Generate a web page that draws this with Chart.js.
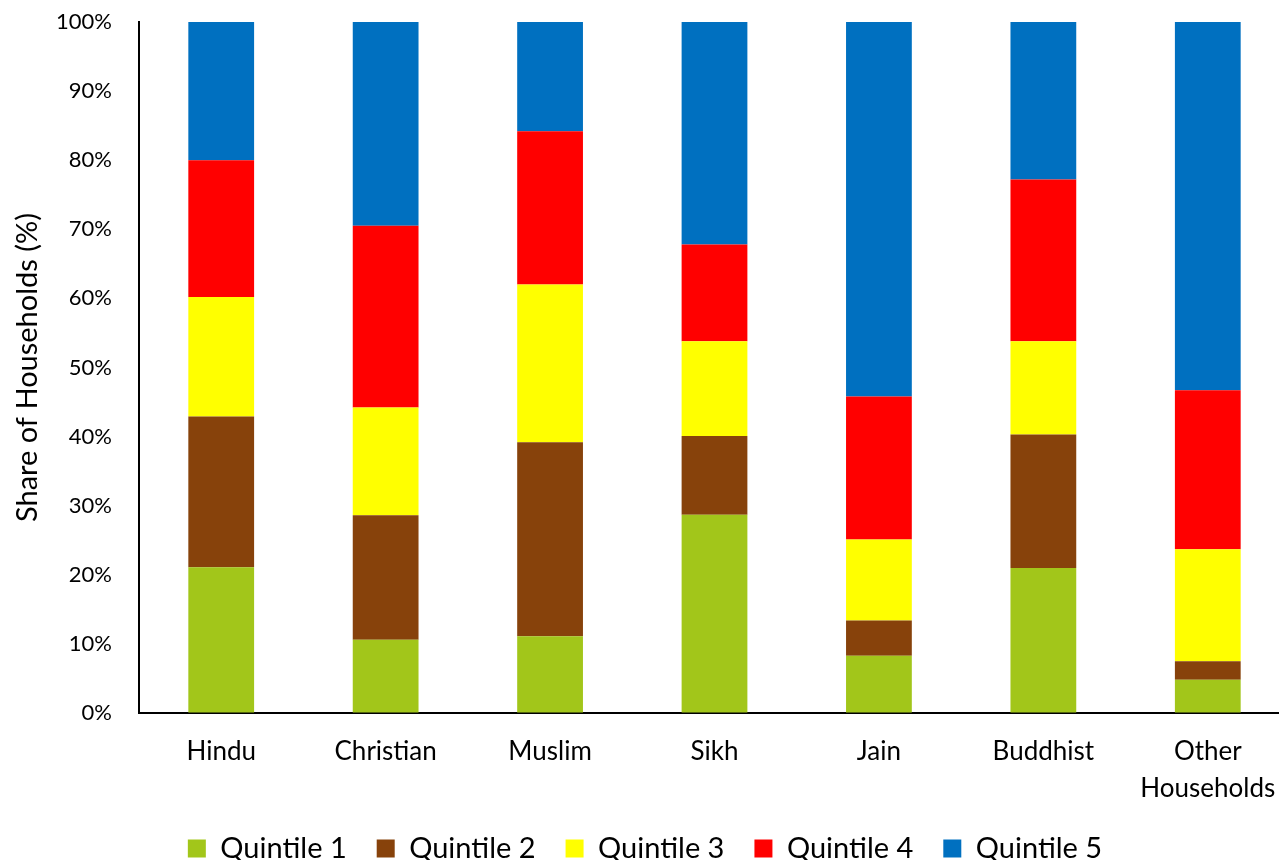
<!DOCTYPE html>
<html>
<head>
<meta charset="utf-8">
<title>Share of Households by Wealth Quintile</title>
<script src="https://cdn.jsdelivr.net/npm/chart.js@4.4.1/dist/chart.umd.min.js"></script>
<style>
  html, body { margin: 0; padding: 0; background: #fff; overflow: hidden; }
  #wrap { width: 1290px; height: 860px; position: relative; }
</style>
</head>
<body>
<div id="wrap"><canvas id="chart"></canvas></div>
<script>
// Religion groups on the x axis
const categories = ['Hindu', 'Christian', 'Muslim', 'Sikh', 'Jain', 'Buddhist', ['Other', 'Households']];

// Share of households (%) in each wealth quintile
const quintile1 = [21.1, 10.6, 11.1, 28.7, 8.3, 21.0, 4.8];
const quintile2 = [21.8, 18.0, 28.1, 11.4, 5.1, 19.3, 2.7];
const quintile3 = [17.3, 15.6, 22.8, 13.7, 11.7, 13.5, 16.2];
const quintile4 = [19.8, 26.3, 22.2, 14.0, 20.7, 23.4, 23.0];
const quintile5 = [20.0, 29.5, 15.8, 32.2, 54.2, 22.8, 53.3];

const seriesNames = ['Quintile 1', 'Quintile 2', 'Quintile 3', 'Quintile 4', 'Quintile 5'];
const seriesColors = ['#A2C61A', '#87420B', '#FFFF00', '#FF0000', '#0070C0'];

// y-axis ticks
const yTicks = [0, 10, 20, 30, 40, 50, 60, 70, 80, 90, 100];

const FONT = 'Lato, "Open Sans", sans-serif';

const seriesValues = [quintile1, quintile2, quintile3, quintile4, quintile5];
const datasets = seriesNames.map((name, i) => ({
  label: name,
  data: seriesValues[i],
  backgroundColor: seriesColors[i],
  borderWidth: 0,
  categoryPercentage: 1.0,
  barPercentage: 0.4
}));

// Keep the legend strip compact even with wide spacing between its items
const compactLegend = {
  id: 'compactLegend',
  afterInit(chart) {
    const lg = chart.legend;
    if (!lg) return;
    const fit = lg.fit.bind(lg);
    lg.fit = function () {
      fit();
      this.height = 56;
    };
  }
};

// invisible tick marks: they only reserve room between the axis line and its labels
const hiddenTicks = (len) => ({
  display: true,
  drawOnChartArea: false,
  drawTicks: true,
  tickLength: len,
  tickColor: 'rgba(0,0,0,0)',
  color: 'rgba(0,0,0,0)'
});

new Chart(document.getElementById('chart'), {
  type: 'bar',
  data: { labels: categories, datasets },
  plugins: [compactLegend],
  options: {
    responsive: true,
    maintainAspectRatio: false,
    animation: false,
    layout: { padding: { top: 22, right: 0, bottom: 0, left: 0 } },
    plugins: {
      tooltip: { enabled: false },
      legend: {
        position: 'bottom',
        labels: {
          boxWidth: 18,
          boxHeight: 18,
          padding: 30,
          color: '#000',
          font: { family: FONT, size: 29 }
        }
      }
    },
    scales: {
      x: {
        stacked: true,
        grid: hiddenTicks(17),
        border: { display: true, color: '#000', width: 2 },
        ticks: {
          color: '#000',
          padding: 3,
          maxRotation: 0,
          autoSkip: false,
          font: { family: FONT, size: 26, lineHeight: 1.42 }
        },
        afterFit(scale) { scale.height = 91; }
      },
      y: {
        stacked: true,
        min: 0,
        max: 100,
        grid: hiddenTicks(24),
        border: { display: true, color: '#000', width: 2 },
        afterBuildTicks(scale) { scale.ticks = yTicks.map(v => ({ value: v })); },
        ticks: {
          color: '#000',
          padding: 3,
          font: { family: FONT, size: 22 },
          callback: v => v + '%'
        },
        title: {
          display: true,
          text: 'Share of Households (%)',
          color: '#000',
          font: { family: FONT, size: 29 },
          padding: { top: 10, bottom: 0 }
        },
        afterFit(scale) { scale.width = 139; }
      }
    }
  }
});
</script>
</body>
</html>
